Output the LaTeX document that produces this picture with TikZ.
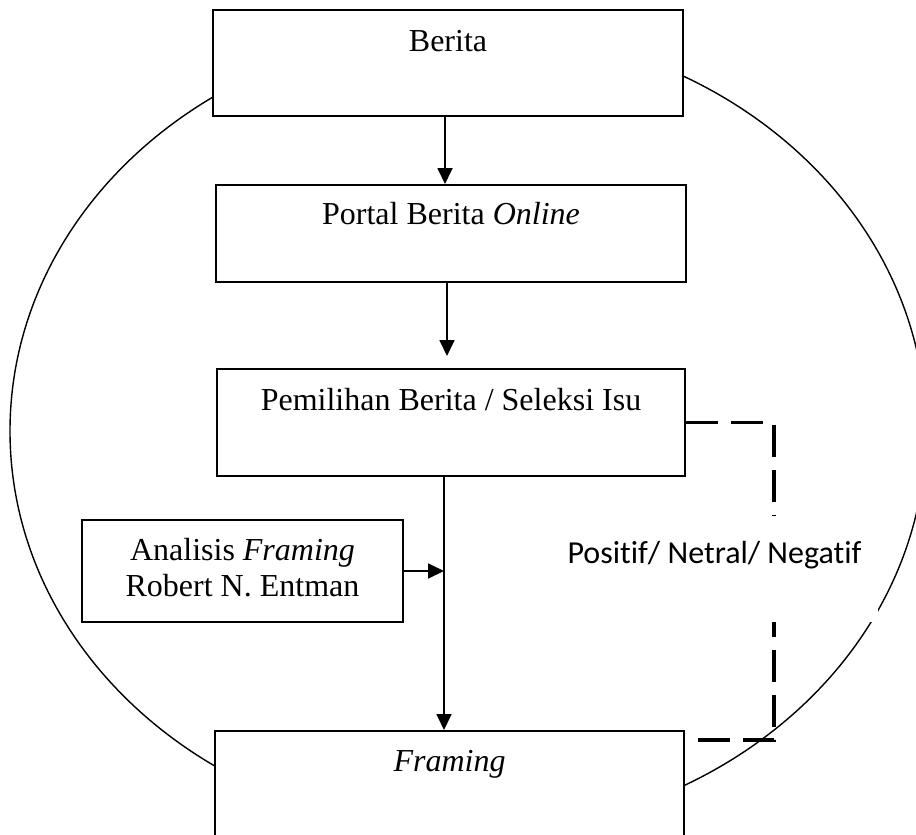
\documentclass[tikz,border=0pt]{standalone}
\usepackage{fontspec}
\setmainfont{Liberation Serif}
\newfontfamily\lblfont[Ligatures=NoCommon]{Carlito}
\usetikzlibrary{arrows.meta,calc}
\tikzset{
  boxnode/.style={draw=black, line width=1pt, fill=white, inner sep=0pt},
  txt/.style={font=\fontsize{16}{19}\selectfont, inner sep=0pt, anchor=base},
  circ/.style={draw=black, line width=0.7pt},
  arr/.style={draw=black, line width=0.9pt, -{Triangle[length=8pt,width=7.5pt]}},
  dashline/.style={draw=black, line width=1.7pt, dash pattern=on 16pt off 6.5pt},
  lbl/.style={font=\lblfont\fontsize{16}{19}\selectfont, inner sep=0pt, anchor=base}
}
\begin{document}
\begin{tikzpicture}[x=0.5pt,y=-0.5pt]
\clip (0,0) rectangle (916,835);
% big ellipse
\draw[circ] (468,431) ellipse [x radius=229pt, y radius=201pt];
% boxes
\node[boxnode, minimum width=235pt, minimum height=53pt] (b1) at (448,63) {};
\node[boxnode, minimum width=235pt, minimum height=48.5pt] (b2) at (451,233.5) {};
\node[boxnode, minimum width=234pt, minimum height=53.5pt] (b3) at (451,422.5) {};
\node[boxnode, minimum width=160.5pt, minimum height=51pt] (b4) at (242.5,571) {};
\node[boxnode, minimum width=234.5pt, minimum height=57pt] (b5) at (449.5,788) {};
% texts
\node[txt] (t1) at ([yshift=-21pt]b1.north) {Berita};
\node[txt] (t2) at ([yshift=-20pt]b2.north) {Portal Berita \textit{Online}};
\node[txt] (t3) at ([yshift=-21pt]b3.north) {Pemilihan Berita / Seleksi Isu};
\node[txt] (t4a) at ([yshift=-20.5pt]b4.north) {Analisis \textit{Framing}};
\node[txt] (t4b) at ([yshift=-38.5pt]b4.north) {Robert N. Entman};
\node[txt] (t5) at ([yshift=-20.5pt]b5.north) {\textit{Framing}};
% arrows
\draw[arr] ([xshift=-1.5pt]b1.south) -- ([xshift=-1.5pt]b1.south |- b2.north);
\draw[arr] ([xshift=-2pt]b2.south) -- ([xshift=-2pt,yshift=6pt]b2.south |- b3.north);
\draw[arr] ([xshift=-3.5pt]b3.south) -- ([xshift=-3.5pt]b3.south |- b5.north);
\coordinate (spine) at ([xshift=-3.5pt]b3.south);
\draw[arr] (b4.east) -- (b4.east -| spine);
% dashed feedback connector
\coordinate (dtop) at (774,422.5);
\coordinate (dbot) at (774,740);
\draw[dashline] (b3.east) -- (dtop) -- (dbot) -- (dbot -| b5.east);
% label with white background
\fill[white] (540,516) rectangle (878,622);
\node[lbl] (lab) at (714.5,563) {Positif/ Netral/ Negatif};
\end{tikzpicture}
\end{document}
